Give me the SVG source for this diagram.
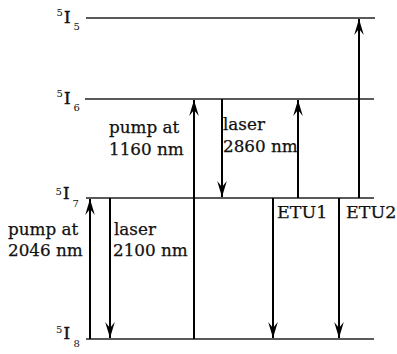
<svg xmlns="http://www.w3.org/2000/svg" width="397" height="354" viewBox="0 0 397 354">
<defs>
<style>
.lvl{stroke:#222;stroke-width:1.6;fill:none}
.arr{stroke:#000;stroke-width:2;fill:none;marker-end:url(#ah)}
.t{font-family:"DejaVu Serif","Liberation Serif",serif;font-size:16.8px;fill:#111;stroke:#111;stroke-width:0.25}
.etu{font-family:"DejaVu Serif","Liberation Serif",serif;font-size:17.5px;fill:#111;stroke:#111;stroke-width:0.25}
.I{font-family:"DejaVu Serif","Liberation Serif",serif;font-size:16.5px;fill:#111;stroke:#111;stroke-width:0.5}
.s{font-family:"DejaVu Serif","Liberation Serif",serif;font-size:10px;fill:#111}
</style>
<marker id="ah" markerUnits="userSpaceOnUse" markerWidth="20" markerHeight="12" viewBox="-16 -6 17 12" refX="0" refY="0" orient="auto">
<path d="M0,0 L-16,-4.8 L-10,0 L-16,4.8 Z" fill="#000"/>
</marker>
</defs>
<rect width="397" height="354" fill="#fff"/>
<g id="level-I5">
<line class="lvl" x1="86" y1="18" x2="375" y2="18"/>
<text class="s" x="56.5" y="16">5</text><text class="I" x="64" y="23">I</text><text class="s" x="73.5" y="30">5</text>
</g>
<g id="level-I6">
<line class="lvl" x1="85" y1="99" x2="374" y2="99"/>
<text class="s" x="56.5" y="97">5</text><text class="I" x="64" y="104">I</text><text class="s" x="73.5" y="111">6</text>
</g>
<g id="level-I7">
<line class="lvl" x1="86" y1="198" x2="374" y2="198"/>
<text class="s" x="55.5" y="195">5</text><text class="I" x="63" y="199">I</text><text class="s" x="72.5" y="207">7</text>
</g>
<g id="level-I8">
<line class="lvl" x1="86" y1="339" x2="374" y2="339"/>
<text class="s" x="56" y="333">5</text><text class="I" x="63.5" y="338.5">I</text><text class="s" x="73.5" y="347">8</text>
</g>
<g id="connectors">
<line class="arr" x1="90" y1="339" x2="90" y2="199"/>
<line class="arr" x1="110" y1="198" x2="110" y2="338"/>
<line class="arr" x1="194" y1="339" x2="194" y2="100"/>
<line class="arr" x1="222" y1="99" x2="222" y2="197"/>
<line class="arr" x1="298" y1="198" x2="298" y2="100"/>
<line class="arr" x1="273" y1="198" x2="273" y2="338"/>
<line class="arr" x1="359" y1="198" x2="359" y2="19"/>
<line class="arr" x1="339" y1="198" x2="339" y2="338"/>
</g>
<g id="label-pump2046">
<text class="t" x="8" y="235">pump at</text>
<text class="t" x="8" y="256">2046 nm</text>
</g>
<g id="label-laser2100">
<text class="t" x="114" y="235">laser</text>
<text class="t" x="113" y="256">2100 nm</text>
</g>
<g id="label-pump1160">
<text class="t" x="109" y="133">pump at</text>
<text class="t" x="109" y="155">1160 nm</text>
</g>
<g id="label-laser2860">
<text class="t" x="223" y="130">laser</text>
<text class="t" x="223" y="152">2860 nm</text>
</g>
<g id="label-ETU1"><text class="etu" x="277" y="218">ETU1</text></g>
<g id="label-ETU2"><text class="etu" x="346" y="218">ETU2</text></g>
</svg>
